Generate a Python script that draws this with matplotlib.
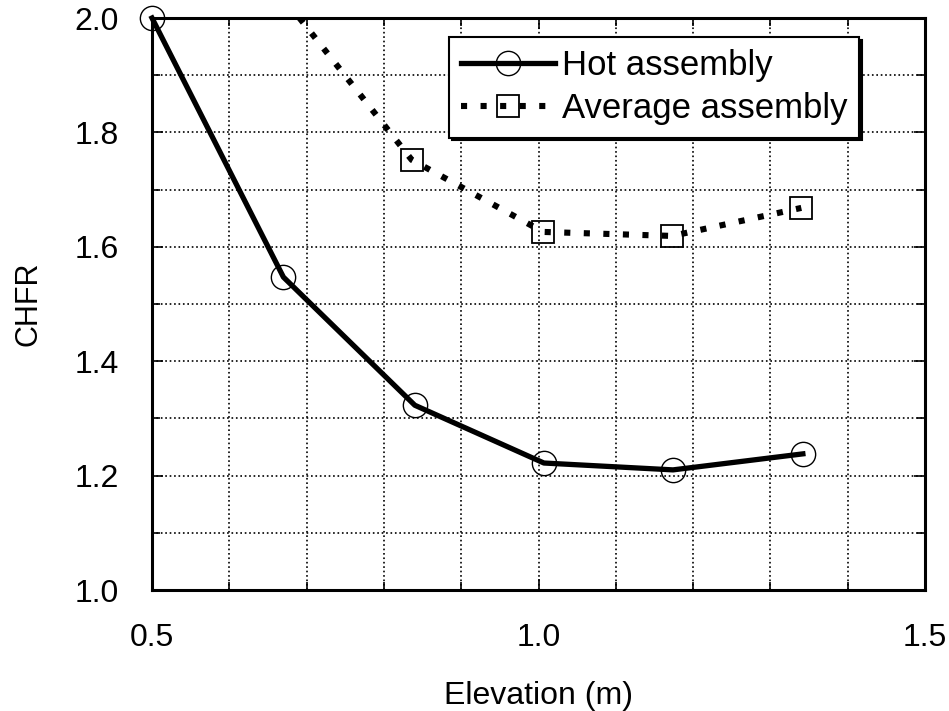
import numpy as np
import matplotlib.pyplot as plt
from matplotlib.ticker import MultipleLocator

plt.rcParams['font.family'] = ['Liberation Sans', 'DejaVu Sans']

# data
hot_x = [0.50, 0.67, 0.84, 1.007, 1.174, 1.342]
hot_y = [2.00, 1.547, 1.323, 1.222, 1.210, 1.238]

avg_x = [0.675, 0.836, 1.006, 1.173, 1.340]
avg_y = [2.027, 1.752, 1.626, 1.619, 1.668]

fig = plt.figure(figsize=(9.49, 7.11), dpi=100)
ax = fig.add_axes([152 / 949, (711 - 590) / 711, 773 / 949, 572 / 711])

ax.plot(hot_x, hot_y, color='black', lw=3.8, marker='o', ms=17.5,
        mfc='none', mec='black', mew=1.0, clip_on=False,
        label='Hot assembly')
ax.plot(avg_x, avg_y, color='black', lw=4.4, dashes=(1.0, 2.2),
        dash_capstyle='butt', marker='s', ms=16, mfc='none', mec='black',
        mew=1.3, label='Average assembly')

ax.set_xlim(0.5, 1.5)
ax.set_ylim(1.0, 2.0)
ax.xaxis.set_major_locator(MultipleLocator(0.5))
ax.xaxis.set_minor_locator(MultipleLocator(0.1))
ax.yaxis.set_major_locator(MultipleLocator(0.2))
ax.yaxis.set_minor_locator(MultipleLocator(0.1))
ax.xaxis.set_major_formatter(plt.FormatStrFormatter('%.1f'))
ax.yaxis.set_major_formatter(plt.FormatStrFormatter('%.1f'))

ax.grid(True, which='both', color='black', linestyle=':', lw=1.2)
ax.tick_params(which='both', direction='in', top=True, right=True,
               labelsize=23, width=1.2)
ax.tick_params(which='major', length=8)
ax.tick_params(which='minor', length=6)
ax.tick_params(axis='x', pad=24)
ax.tick_params(axis='y', pad=24)
for s in ax.spines.values():
    s.set_linewidth(2.2)

ax.set_xlabel('Elevation (m)', fontsize=23, labelpad=20)
ax.set_ylabel('CHFR', fontsize=22, labelpad=22)

leg = ax.legend(loc='upper right', bbox_to_anchor=(0.915, 0.967),
                fontsize=25, frameon=True, fancybox=False,
                shadow={'color': 'black', 'alpha': 1},
                handlelength=2.7, handletextpad=0.2, borderpad=0.35,
                labelspacing=0.3, borderaxespad=0)
leg.get_frame().set_edgecolor('black')
leg.get_frame().set_linewidth(1.5)
leg.get_frame().set_alpha(1)

fig.savefig('out.png', dpi=100)
